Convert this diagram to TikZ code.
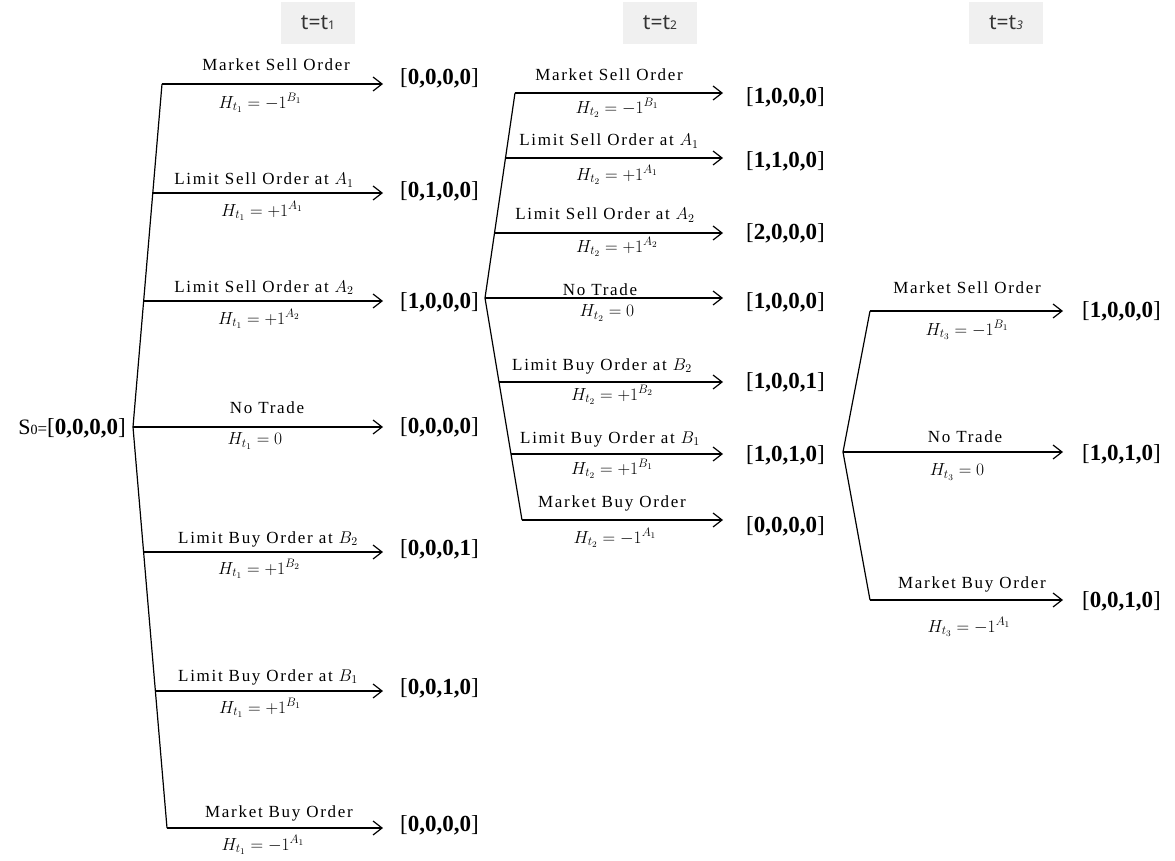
\RequirePackage{fix-cm}
\documentclass[tikz,border=0pt]{standalone}
\usepackage{fontspec}
\setmainfont{Liberation Serif}
\newfontfamily\lblfont[LetterSpace=10]{Liberation Serif}
\newfontfamily\hdrfont{Noto Sans}
\usetikzlibrary{arrows.meta}
\definecolor{hdrgray}{RGB}{240,240,240}
\tikzset{
  br/.style={line width=1.2pt, -{Straight Barb[length=9pt,width=14pt,line width=1.2pt]}},
  spine/.style={line width=1.2pt},
  lbl/.style={anchor=base, inner sep=0pt, font=\lblfont\fontsize{17}{17}\selectfont},
  hlbl/.style={anchor=center, inner sep=0pt, font=\fontsize{17.5}{17.5}\selectfont},
  res/.style={anchor=west, inner sep=0pt, font=\fontsize{23}{23}\selectfont},
  hdr/.style={fill=hdrgray, minimum width=74pt, minimum height=42pt, inner sep=0pt,
              font=\hdrfont\fontsize{21}{21}\selectfont, text=black!80}
}
\newcommand{\sm}[1]{{\fontsize{12}{12}\selectfont #1}}
\newcommand{\vv}[1]{[\textbf{#1}]}
\begin{document}
\begin{tikzpicture}[x=1pt,y=-1pt]
\useasboundingbox (0,0) rectangle (1175,861);

% headers
\node[hdr] (h1) at (318,23) {t=t\sm{1}};
\node[hdr] (h2) at (660,23) {t=t\sm{2}};
\node[hdr] (h3) at (1006,23) {t=t\sm{\itshape 3}};

% ---------------- tree 1 ----------------
\node[anchor=east, inner sep=0pt] (s0) at (126,428)
  {{\fontsize{22}{22}\selectfont S}{\fontsize{14}{14}\selectfont 0}{\fontsize{17}{17}\selectfont =}{\fontsize{23}{23}\selectfont \vv{0,0,0,0}}};
\coordinate (r1) at (133,427);
\coordinate (t1top) at (162,84);
\coordinate (t1bot) at (167,828);
\draw[spine] (t1top) -- (r1) -- (t1bot);

\coordinate (a1s) at (162,84);    \coordinate (a1e) at (383,84);
\coordinate (a2s) at (152.8,193); \coordinate (a2e) at (383,193);
\coordinate (a3s) at (143.6,301); \coordinate (a3e) at (383,301);
\coordinate (a4s) at (133,427);   \coordinate (a4e) at (383,427);
\coordinate (a5s) at (143.6,552); \coordinate (a5e) at (383,552);
\coordinate (a6s) at (155.4,691); \coordinate (a6e) at (383,691);
\coordinate (a7s) at (167,828);   \coordinate (a7e) at (383,828);
\foreach \i in {1,...,7} {\draw[br] (a\i s) -- (a\i e);}

\node[lbl] (a1t) at (276,71)  {Market Sell Order};
\node[lbl] (a2t) at (264,185) {Limit Sell Order at $A_1$};
\node[lbl] (a3t) at (264,292) {Limit Sell Order at $A_2$};
\node[lbl] (a4t) at (267,413) {No Trade};
\node[lbl] (a5t) at (268,543) {Limit Buy Order at $B_2$};
\node[lbl] (a6t) at (268,681) {Limit Buy Order at $B_1$};
\node[lbl] (a7t) at (279,817) {Market Buy Order};

\node[hlbl] (a1h) at (260,103) {$H_{t_1}=-1^{B_1}$};
\node[hlbl] (a2h) at (262,211) {$H_{t_1}=+1^{A_1}$};
\node[hlbl] (a3h) at (259,319) {$H_{t_1}=+1^{A_2}$};
\node[hlbl] (a4h) at (255,441) {$H_{t_1}=0$};
\node[hlbl] (a5h) at (259,569) {$H_{t_1}=+1^{B_2}$};
\node[hlbl] (a6h) at (260,708) {$H_{t_1}=+1^{B_1}$};
\node[hlbl] (a7h) at (263,845) {$H_{t_1}=-1^{A_1}$};

\node[res] (a1r) at (400,78)  {\vv{0,0,0,0}};
\node[res] (a2r) at (400,191) {\vv{0,1,0,0}};
\node[res] (a3r) at (400,302) {\vv{1,0,0,0}};
\node[res] (a4r) at (400,427) {\vv{0,0,0,0}};
\node[res] (a5r) at (400,549) {\vv{0,0,0,1}};
\node[res] (a6r) at (400,688) {\vv{0,0,1,0}};
\node[res] (a7r) at (400,825) {\vv{0,0,0,0}};

% ---------------- tree 2 ----------------
\coordinate (r2) at (485,298);
\coordinate (t2top) at (515,93);
\coordinate (t2bot) at (522,520);
\draw[spine] (t2top) -- (r2) -- (t2bot);

\coordinate (b1s) at (515,93);    \coordinate (b1e) at (723,93);
\coordinate (b2s) at (505.5,158); \coordinate (b2e) at (723,158);
\coordinate (b3s) at (494.5,233); \coordinate (b3e) at (723,233);
\coordinate (b4s) at (485,298);   \coordinate (b4e) at (723,298);
\coordinate (b5s) at (499,382);   \coordinate (b5e) at (723,382);
\coordinate (b6s) at (511,454);   \coordinate (b6e) at (723,454);
\coordinate (b7s) at (522,520);   \coordinate (b7e) at (723,520);
\foreach \i in {1,...,7} {\draw[br] (b\i s) -- (b\i e);}

\node[lbl] (b1t) at (609,81)  {Market Sell Order};
\node[lbl] (b2t) at (609,146) {Limit Sell Order at $A_1$};
\node[lbl] (b3t) at (605,220) {Limit Sell Order at $A_2$};
\node[lbl] (b4t) at (600,295) {No Trade};
\node[lbl] (b5t) at (602,370) {Limit Buy Order at $B_2$};
\node[lbl] (b6t) at (610,443) {Limit Buy Order at $B_1$};
\node[lbl] (b7t) at (612,507) {Market Buy Order};

\node[hlbl] (b1h) at (617,108) {$H_{t_2}=-1^{B_1}$};
\node[hlbl] (b2h) at (617,175) {$H_{t_2}=+1^{A_1}$};
\node[hlbl] (b3h) at (617,247) {$H_{t_2}=+1^{A_2}$};
\node[hlbl] (b4h) at (607,313) {$H_{t_2}=0$};
\node[hlbl] (b5h) at (612,395) {$H_{t_2}=+1^{B_2}$};
\node[hlbl] (b6h) at (612,469) {$H_{t_2}=+1^{B_1}$};
\node[hlbl] (b7h) at (615,538) {$H_{t_2}=-1^{A_1}$};

\node[res] (b1r) at (746,97)  {\vv{1,0,0,0}};
\node[res] (b2r) at (746,161) {\vv{1,1,0,0}};
\node[res] (b3r) at (746,233) {\vv{2,0,0,0}};
\node[res] (b4r) at (746,302) {\vv{1,0,0,0}};
\node[res] (b5r) at (746,382) {\vv{1,0,0,1}};
\node[res] (b6r) at (746,455) {\vv{1,0,1,0}};
\node[res] (b7r) at (746,526) {\vv{0,0,0,0}};

% ---------------- tree 3 ----------------
\coordinate (r3) at (843,452);
\coordinate (t3top) at (870,311);
\coordinate (t3bot) at (870,600);
\draw[spine] (t3top) -- (r3) -- (t3bot);

\coordinate (c1s) at (870,311); \coordinate (c1e) at (1063,311);
\coordinate (c2s) at (843,452); \coordinate (c2e) at (1063,452);
\coordinate (c3s) at (870,600); \coordinate (c3e) at (1063,600);
\foreach \i in {1,2,3} {\draw[br] (c\i s) -- (c\i e);}

\node[lbl] (c1t) at (967,293) {Market Sell Order};
\node[lbl] (c2t) at (965,442) {No Trade};
\node[lbl] (c3t) at (972,588) {Market Buy Order};

\node[hlbl] (c1h) at (967,330) {$H_{t_3}=-1^{B_1}$};
\node[hlbl] (c2h) at (957,472) {$H_{t_3}=0$};
\node[hlbl] (c3h) at (969,627) {$H_{t_3}=-1^{A_1}$};

\node[res] (c1r) at (1082,311) {\vv{1,0,0,0}};
\node[res] (c2r) at (1082,454) {\vv{1,0,1,0}};
\node[res] (c3r) at (1082,601) {\vv{0,0,1,0}};
\end{tikzpicture}
\end{document}
